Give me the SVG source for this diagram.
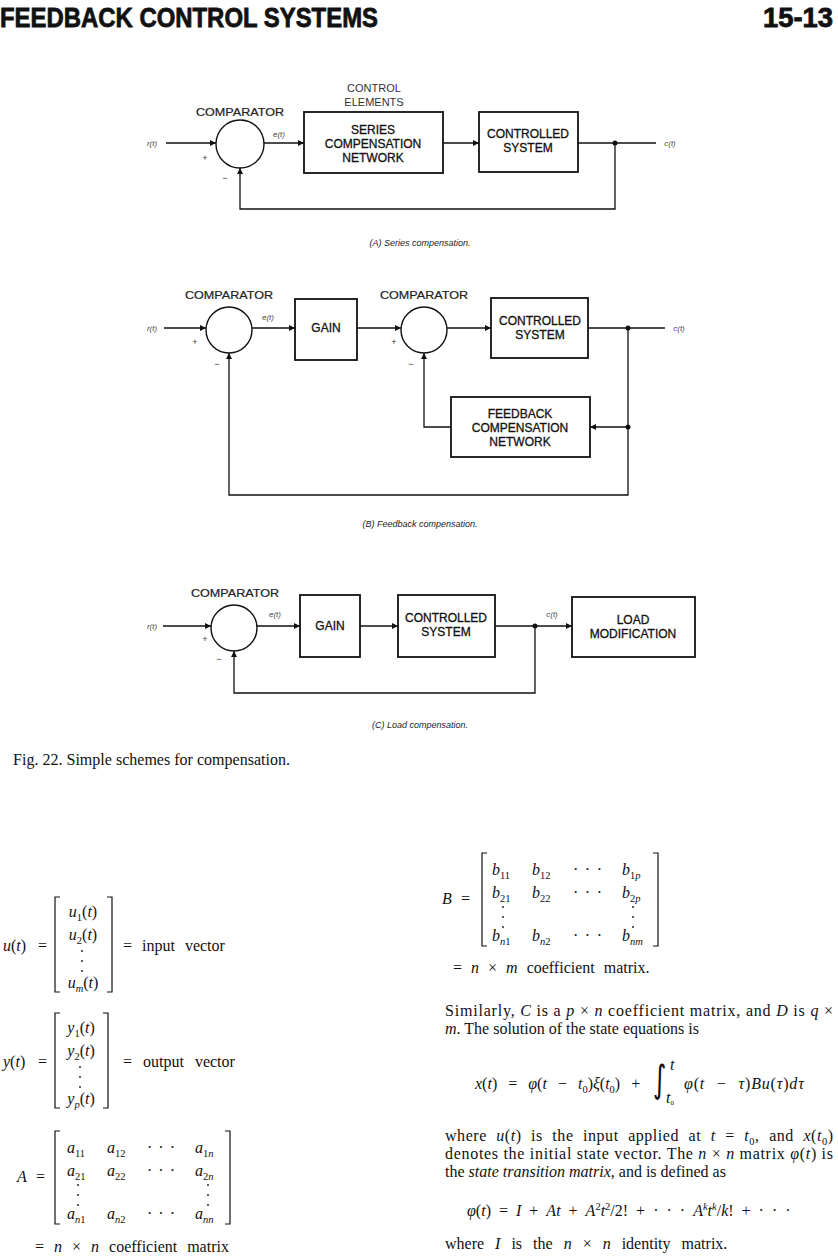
<svg xmlns="http://www.w3.org/2000/svg" width="838" height="1260" viewBox="0 0 838 1260">
<defs>
<marker id="ah" viewBox="0 0 10 10" refX="10" refY="5" markerWidth="9" markerHeight="6" orient="auto" markerUnits="userSpaceOnUse"><path d="M0,0 L10,5 L0,10 z" fill="#111"/></marker>
<style>
.box{fill:#fff;stroke:#111;stroke-width:1.8}
.sum{fill:#fff;stroke:#111;stroke-width:1.4}
.wire{fill:none;stroke:#111;stroke-width:1.3}
.arr{marker-end:url(#ah)}
.dot{fill:#111}
.lbl{font-family:"Liberation Sans",Arial,sans-serif;font-size:12px;fill:#111;stroke:#111;stroke-width:0.3;text-anchor:middle}
.cmp{font-family:"Liberation Sans",Arial,sans-serif;font-size:11px;fill:#222;stroke:#222;stroke-width:0.2;text-anchor:middle}
.ce{font-family:"Liberation Sans",Arial,sans-serif;font-size:11px;fill:#333;text-anchor:middle}
.sig{font-family:"Liberation Sans",Arial,sans-serif;font-size:8px;font-style:italic;fill:#444;text-anchor:middle}
.pm{font-family:"Liberation Sans",Arial,sans-serif;font-size:9px;fill:#333;text-anchor:middle}
.cap{font-family:"Liberation Sans",Arial,sans-serif;font-size:9px;font-style:italic;fill:#222;text-anchor:middle}
.hd{font-family:"Liberation Sans",Arial,sans-serif;font-size:28px;font-weight:bold;fill:#111;stroke:#111;stroke-width:0.8}
.body{font-family:"Liberation Serif","Times New Roman",serif;font-size:16px;fill:#111}
.i{font-style:italic}
.sb{font-size:10.5px}
.br{fill:none;stroke:#111;stroke-width:1.2}
</style>
</defs>
<rect width="838" height="1260" fill="#fff"/>

<g id="header">
<text class="hd" x="0" y="27" textLength="378" lengthAdjust="spacingAndGlyphs">FEEDBACK CONTROL SYSTEMS</text>
<text class="hd" x="833" y="27" text-anchor="end" textLength="70" lengthAdjust="spacingAndGlyphs">15-13</text>
</g>

<!-- (A) Series compensation -->
<g id="a-connectors">
<path class="wire arr" d="M166,143 H216"/>
<path class="wire arr" d="M264,143 H304"/>
<path class="wire arr" d="M443,143 H479"/>
<path class="wire" d="M578,143 H656"/>
<path class="wire arr" d="M615,143 V209 H240 V168"/>
<circle class="dot" cx="615" cy="143" r="2.5"/>
<text class="sig" x="152" y="146">r(t)</text>
<text class="sig" x="279" y="137">e(t)</text>
<text class="sig" x="670" y="146">c(t)</text>
<text class="pm" x="205" y="161">+</text>
<text class="pm" x="225" y="181">−</text>
</g>
<g id="a-comparator">
<text class="cmp" x="240" y="116" textLength="88" lengthAdjust="spacingAndGlyphs">COMPARATOR</text>
<circle class="sum" cx="240" cy="144" r="24"/>
</g>
<g id="a-control-elements">
<text class="ce" x="374" y="92">CONTROL</text>
<text class="ce" x="374" y="106">ELEMENTS</text>
</g>
<g id="a-series">
<rect class="box" x="304" y="112" width="139" height="61"/>
<text class="lbl" x="373" y="134">SERIES</text>
<text class="lbl" x="373" y="148">COMPENSATION</text>
<text class="lbl" x="373" y="162">NETWORK</text>
</g>
<g id="a-controlled">
<rect class="box" x="479" y="112" width="99" height="60"/>
<text class="lbl" x="528" y="138">CONTROLLED</text>
<text class="lbl" x="528" y="152">SYSTEM</text>
</g>
<text class="cap" x="420" y="246">(A) Series compensation.</text>

<!-- (B) Feedback compensation -->
<g id="b-connectors">
<path class="wire arr" d="M164,328 H206"/>
<path class="wire arr" d="M252,328 H295"/>
<path class="wire arr" d="M357,328 H401"/>
<path class="wire arr" d="M447,328 H491"/>
<path class="wire" d="M588,328 H665"/>
<path class="wire arr" d="M628,328 V495 H229 V353"/>
<path class="wire arr" d="M628,427 H590"/>
<path class="wire arr" d="M451,427 H424 V353"/>
<circle class="dot" cx="628" cy="328" r="2.5"/>
<circle class="dot" cx="628" cy="427" r="2.5"/>
<text class="sig" x="152" y="331">r(t)</text>
<text class="sig" x="268" y="320">e(t)</text>
<text class="sig" x="679" y="331">c(t)</text>
<text class="pm" x="195" y="345">+</text>
<text class="pm" x="217" y="367">−</text>
<text class="pm" x="394" y="345">+</text>
<text class="pm" x="411" y="367">−</text>
</g>
<g id="b-comparator-1">
<text class="cmp" x="229" y="299" textLength="88" lengthAdjust="spacingAndGlyphs">COMPARATOR</text>
<circle class="sum" cx="229" cy="330" r="23"/>
</g>
<g id="b-gain">
<rect class="box" x="295" y="299" width="62" height="61"/>
<text class="lbl" x="326" y="332">GAIN</text>
</g>
<g id="b-comparator-2">
<text class="cmp" x="424" y="299" textLength="88" lengthAdjust="spacingAndGlyphs">COMPARATOR</text>
<circle class="sum" cx="424" cy="330" r="23"/>
</g>
<g id="b-controlled">
<rect class="box" x="491" y="298" width="97" height="60"/>
<text class="lbl" x="540" y="325">CONTROLLED</text>
<text class="lbl" x="540" y="339">SYSTEM</text>
</g>
<g id="b-feedback">
<rect class="box" x="451" y="397" width="139" height="60"/>
<text class="lbl" x="520" y="418">FEEDBACK</text>
<text class="lbl" x="520" y="432">COMPENSATION</text>
<text class="lbl" x="520" y="446">NETWORK</text>
</g>
<text class="cap" x="420" y="527">(B) Feedback compensation.</text>

<!-- (C) Load compensation -->
<g id="c-connectors">
<path class="wire arr" d="M163,626 H211"/>
<path class="wire arr" d="M257,626 H300"/>
<path class="wire arr" d="M360,626 H398"/>
<path class="wire arr" d="M495,626 H572"/>
<path class="wire arr" d="M535,626 V693 H234 V651"/>
<circle class="dot" cx="535" cy="626" r="2.5"/>
<text class="sig" x="152" y="629">r(t)</text>
<text class="sig" x="275" y="617">e(t)</text>
<text class="sig" x="552" y="617">c(t)</text>
<text class="pm" x="205" y="642">+</text>
<text class="pm" x="219" y="662">−</text>
</g>
<g id="c-comparator">
<text class="cmp" x="235" y="597" textLength="88" lengthAdjust="spacingAndGlyphs">COMPARATOR</text>
<circle class="sum" cx="234" cy="628" r="23"/>
</g>
<g id="c-gain">
<rect class="box" x="300" y="595" width="60" height="62"/>
<text class="lbl" x="330" y="630">GAIN</text>
</g>
<g id="c-controlled">
<rect class="box" x="398" y="595" width="97" height="62"/>
<text class="lbl" x="446" y="622">CONTROLLED</text>
<text class="lbl" x="446" y="636">SYSTEM</text>
</g>
<g id="c-load">
<rect class="box" x="572" y="597" width="123" height="60"/>
<text class="lbl" x="633" y="624">LOAD</text>
<text class="lbl" x="633" y="638">MODIFICATION</text>
</g>
<text class="cap" x="420" y="728">(C) Load compensation.</text>

<text class="body" x="13" y="765" textLength="277" lengthAdjust="spacing">Fig. 22. Simple schemes for compensation.</text>

<!-- u(t) -->
<g id="u-vector">
<text class="body" x="3" y="951"><tspan class="i">u</tspan>(<tspan class="i">t</tspan>)</text>
<text class="body" x="38" y="951">=</text>
<path class="br" d="M60,897 H55 V992 H60"/>
<path class="br" d="M107,897 H112 V992 H107"/>
<text class="body" x="83" y="917" text-anchor="middle"><tspan class="i">u</tspan><tspan class="sb" dy="4">1</tspan><tspan dy="-4">(</tspan><tspan class="i">t</tspan>)</text>
<text class="body" x="83" y="940" text-anchor="middle"><tspan class="i">u</tspan><tspan class="sb" dy="4">2</tspan><tspan dy="-4">(</tspan><tspan class="i">t</tspan>)</text>
<circle class="dot" cx="82" cy="951" r="0.9"/><circle class="dot" cx="82" cy="961" r="0.9"/><circle class="dot" cx="82" cy="971" r="0.9"/>
<text class="body" x="83" y="988" text-anchor="middle"><tspan class="i">u</tspan><tspan class="sb i" dy="4">m</tspan><tspan dy="-4">(</tspan><tspan class="i">t</tspan>)</text>
<text class="body" x="123" y="951" style="word-spacing:6px">= input vector</text>
</g>

<!-- y(t) -->
<g id="y-vector">
<text class="body" x="3" y="1067"><tspan class="i">y</tspan>(<tspan class="i">t</tspan>)</text>
<text class="body" x="38" y="1067">=</text>
<path class="br" d="M60,1013 H55 V1108 H60"/>
<path class="br" d="M103,1013 H108 V1108 H103"/>
<text class="body" x="81" y="1033" text-anchor="middle"><tspan class="i">y</tspan><tspan class="sb" dy="4">1</tspan><tspan dy="-4">(</tspan><tspan class="i">t</tspan>)</text>
<text class="body" x="81" y="1056" text-anchor="middle"><tspan class="i">y</tspan><tspan class="sb" dy="4">2</tspan><tspan dy="-4">(</tspan><tspan class="i">t</tspan>)</text>
<circle class="dot" cx="80" cy="1067" r="0.9"/><circle class="dot" cx="80" cy="1077" r="0.9"/><circle class="dot" cx="80" cy="1087" r="0.9"/>
<text class="body" x="81" y="1104" text-anchor="middle"><tspan class="i">y</tspan><tspan class="sb i" dy="4">p</tspan><tspan dy="-4">(</tspan><tspan class="i">t</tspan>)</text>
<text class="body" x="123" y="1067" style="word-spacing:7px">= output vector</text>
</g>

<!-- A matrix -->
<g id="a-matrix">
<text class="body i" x="17" y="1182">A</text>
<text class="body" x="36" y="1182">=</text>
<path class="br" d="M60,1131 H55 V1224 H60"/>
<path class="br" d="M225,1131 H230 V1224 H225"/>
<text class="body" x="67" y="1153"><tspan class="i">a</tspan><tspan class="sb" dy="4">11</tspan></text>
<text class="body" x="107" y="1153"><tspan class="i">a</tspan><tspan class="sb" dy="4">12</tspan></text>
<text class="body" x="147" y="1153" textLength="28" lengthAdjust="spacing">· · ·</text>
<text class="body" x="195" y="1153"><tspan class="i">a</tspan><tspan class="sb" dy="4">1</tspan><tspan class="sb i">n</tspan></text>
<text class="body" x="67" y="1176"><tspan class="i">a</tspan><tspan class="sb" dy="4">21</tspan></text>
<text class="body" x="107" y="1176"><tspan class="i">a</tspan><tspan class="sb" dy="4">22</tspan></text>
<text class="body" x="147" y="1176" textLength="28" lengthAdjust="spacing">· · ·</text>
<text class="body" x="195" y="1176"><tspan class="i">a</tspan><tspan class="sb" dy="4">2</tspan><tspan class="sb i">n</tspan></text>
<circle class="dot" cx="78" cy="1185" r="0.9"/><circle class="dot" cx="78" cy="1195" r="0.9"/><circle class="dot" cx="78" cy="1205" r="0.9"/>
<circle class="dot" cx="208" cy="1185" r="0.9"/><circle class="dot" cx="208" cy="1195" r="0.9"/><circle class="dot" cx="208" cy="1205" r="0.9"/>
<text class="body" x="67" y="1219"><tspan class="i">a</tspan><tspan class="sb i" dy="4">n</tspan><tspan class="sb">1</tspan></text>
<text class="body" x="107" y="1219"><tspan class="i">a</tspan><tspan class="sb i" dy="4">n</tspan><tspan class="sb">2</tspan></text>
<text class="body" x="147" y="1219" textLength="28" lengthAdjust="spacing">· · ·</text>
<text class="body" x="195" y="1219"><tspan class="i">a</tspan><tspan class="sb i" dy="4">nn</tspan></text>
<text class="body" x="35" y="1252" style="word-spacing:6px">= <tspan class="i">n</tspan> × <tspan class="i">n</tspan> coefficient matrix</text>
</g>

<!-- B matrix -->
<g id="b-matrix">
<text class="body i" x="442" y="904">B</text>
<text class="body" x="461" y="904">=</text>
<path class="br" d="M487,853 H482 V946 H487"/>
<path class="br" d="M653,853 H658 V946 H653"/>
<text class="body" x="492" y="875"><tspan class="i">b</tspan><tspan class="sb" dy="4">11</tspan></text>
<text class="body" x="532" y="875"><tspan class="i">b</tspan><tspan class="sb" dy="4">12</tspan></text>
<text class="body" x="573" y="875" textLength="29" lengthAdjust="spacing">· · ·</text>
<text class="body" x="622" y="875"><tspan class="i">b</tspan><tspan class="sb" dy="4">1</tspan><tspan class="sb i">p</tspan></text>
<text class="body" x="492" y="898"><tspan class="i">b</tspan><tspan class="sb" dy="4">21</tspan></text>
<text class="body" x="532" y="898"><tspan class="i">b</tspan><tspan class="sb" dy="4">22</tspan></text>
<text class="body" x="573" y="898" textLength="29" lengthAdjust="spacing">· · ·</text>
<text class="body" x="622" y="898"><tspan class="i">b</tspan><tspan class="sb" dy="4">2</tspan><tspan class="sb i">p</tspan></text>
<circle class="dot" cx="503" cy="907" r="0.9"/><circle class="dot" cx="503" cy="917" r="0.9"/><circle class="dot" cx="503" cy="927" r="0.9"/>
<circle class="dot" cx="633" cy="907" r="0.9"/><circle class="dot" cx="633" cy="917" r="0.9"/><circle class="dot" cx="633" cy="927" r="0.9"/>
<text class="body" x="492" y="941"><tspan class="i">b</tspan><tspan class="sb i" dy="4">n</tspan><tspan class="sb">1</tspan></text>
<text class="body" x="532" y="941"><tspan class="i">b</tspan><tspan class="sb i" dy="4">n</tspan><tspan class="sb">2</tspan></text>
<text class="body" x="573" y="941" textLength="29" lengthAdjust="spacing">· · ·</text>
<text class="body" x="622" y="941"><tspan class="i">b</tspan><tspan class="sb i" dy="4">nm</tspan></text>
<text class="body" x="453" y="973" style="word-spacing:5px">= <tspan class="i">n</tspan> × <tspan class="i">m</tspan> coefficient matrix.</text>
</g>

<!-- right column text -->
<g id="text-right">
<text class="body" x="445" y="1016" textLength="388" lengthAdjust="spacing">Similarly, <tspan class="i">C</tspan> is a <tspan class="i">p</tspan> × <tspan class="i">n</tspan> coefficient matrix, and <tspan class="i">D</tspan> is <tspan class="i">q</tspan> ×</text>
<text class="body" x="445" y="1034"><tspan class="i">m</tspan>. The solution of the state equations is</text>
<text class="body" x="475" y="1089" style="word-spacing:7px"><tspan class="i">x</tspan>(<tspan class="i">t</tspan>) = <tspan class="i">φ</tspan>(<tspan class="i">t</tspan> − <tspan class="i">t</tspan><tspan class="sb" dy="4">0</tspan><tspan dy="-4">)</tspan><tspan class="i">ξ</tspan>(<tspan class="i">t</tspan><tspan class="sb" dy="4">0</tspan><tspan dy="-4">) +</tspan></text>
<text x="0" y="0" transform="translate(653,1092) scale(1,1.45)" font-family="DejaVu Sans, sans-serif" font-size="26" fill="#111">∫</text>
<text class="body i" x="670" y="1070" font-size="9">t</text>
<text class="body" x="666" y="1103" font-size="9"><tspan class="i">t</tspan><tspan font-size="7" dy="2">0</tspan></text>
<text class="body" x="684" y="1089" style="word-spacing:7px;letter-spacing:0.8px"><tspan class="i">φ</tspan>(<tspan class="i">t</tspan> − <tspan class="i">τ</tspan>)<tspan class="i">Bu</tspan>(<tspan class="i">τ</tspan>)<tspan class="i">dτ</tspan></text>
<text class="body" x="445" y="1141" textLength="388" lengthAdjust="spacing" style="word-spacing:5px">where <tspan class="i">u</tspan>(<tspan class="i">t</tspan>) is the input applied at <tspan class="i">t</tspan> = <tspan class="i">t</tspan><tspan class="sb" dy="4">0</tspan><tspan dy="-4">, and </tspan><tspan class="i">x</tspan>(<tspan class="i">t</tspan><tspan class="sb" dy="4">0</tspan><tspan dy="-4">)</tspan></text>
<text class="body" x="445" y="1159" textLength="388" lengthAdjust="spacing">denotes the initial state vector. The <tspan class="i">n</tspan> × <tspan class="i">n</tspan> matrix <tspan class="i">φ</tspan>(<tspan class="i">t</tspan>) is</text>
<text class="body" x="445" y="1177">the <tspan class="i">state transition matrix</tspan>, and is defined as</text>
<text class="body" x="467" y="1216" style="word-spacing:4px"><tspan class="i">φ</tspan>(<tspan class="i">t</tspan>) = <tspan class="i">I</tspan> + <tspan class="i">At</tspan> + <tspan class="i">A</tspan><tspan class="sb" dy="-6">2</tspan><tspan class="i" dy="6">t</tspan><tspan class="sb" dy="-6">2</tspan><tspan dy="6">/2! + · · · </tspan><tspan class="i">A</tspan><tspan class="sb i" dy="-6">k</tspan><tspan class="i" dy="6">t</tspan><tspan class="sb i" dy="-6">k</tspan><tspan dy="6">/</tspan><tspan class="i">k</tspan>! + · · ·</text>
<text class="body" x="445" y="1249" style="word-spacing:7px">where <tspan class="i">I</tspan> is the <tspan class="i">n</tspan> × <tspan class="i">n</tspan> identity matrix.</text>
</g>
</svg>
